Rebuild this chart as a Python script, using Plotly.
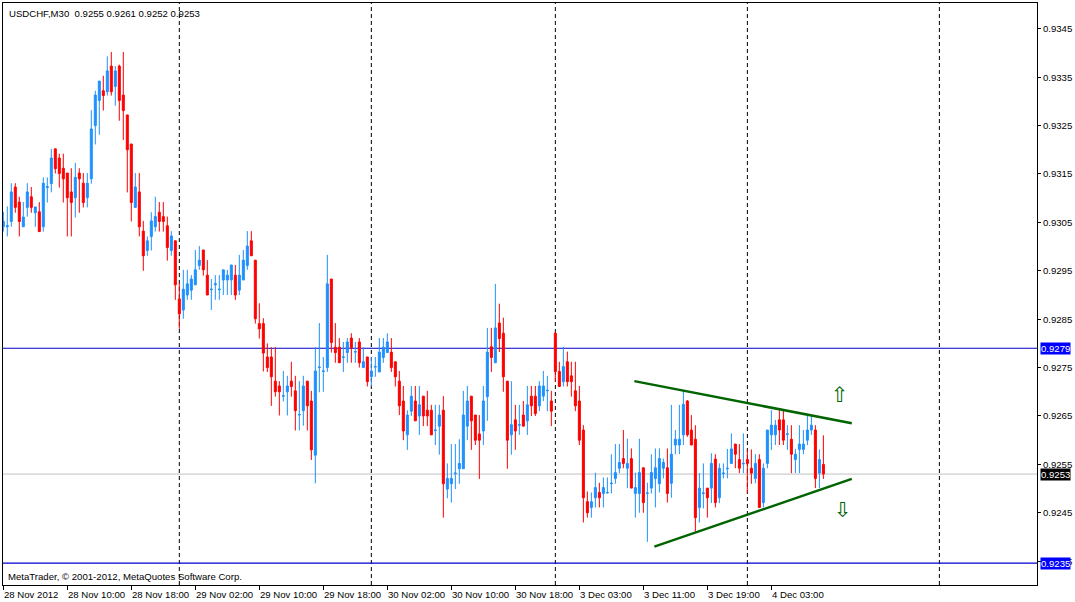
import plotly.graph_objects as go

# ---------------------------
# USDCHF M30 bars, 28 Nov 02:00 .. 4 Dec 09:30
# ---------------------------
opens = [
    0.93041, 0.93041, 0.93052, 0.93123, 0.93092, 0.93041, 0.93081, 0.93103, 0.93070, 0.93072,
    0.93041, 0.93122, 0.93130, 0.93202, 0.93183, 0.93162, 0.93152, 0.93113, 0.93101, 0.93152,
    0.93131, 0.93101, 0.93140, 0.93250, 0.93302, 0.93322, 0.93320, 0.93373, 0.93331, 0.93373,
    0.93313, 0.93272, 0.93212, 0.93081, 0.93113, 0.93032, 0.92992, 0.93021, 0.93041, 0.93071,
    0.93062, 0.93043, 0.92992, 0.93012, 0.92892, 0.92869, 0.92900, 0.92910, 0.92921, 0.92961,
    0.92993, 0.92941, 0.92911, 0.92921, 0.92911, 0.92931, 0.92931, 0.92931, 0.92941, 0.92910,
    0.92931, 0.92961, 0.93012, 0.92972, 0.92841, 0.92841, 0.92772, 0.92772, 0.92722, 0.92712,
    0.92691, 0.92700, 0.92722, 0.92702, 0.92652, 0.92661, 0.92722, 0.92681, 0.92569, 0.92750,
    0.92742, 0.92750, 0.92933, 0.92792, 0.92792, 0.92771, 0.92781, 0.92811, 0.92782, 0.92803,
    0.92750, 0.92772, 0.92731, 0.92751, 0.92741, 0.92771, 0.92781, 0.92782, 0.92762, 0.92722,
    0.92681, 0.92611, 0.92660, 0.92681, 0.92650, 0.92691, 0.92662, 0.92662, 0.92620, 0.92629,
    0.92662, 0.92499, 0.92510, 0.92531, 0.92541, 0.92541, 0.92629, 0.92691, 0.92652, 0.92613,
    0.92619, 0.92690, 0.92793, 0.92760, 0.92842, 0.92821, 0.92722, 0.92611, 0.92642, 0.92631,
    0.92652, 0.92640, 0.92691, 0.92691, 0.92671, 0.92691, 0.92702, 0.92681, 0.92821, 0.92742,
    0.92721, 0.92762, 0.92733, 0.92702, 0.92681, 0.92621, 0.92473, 0.92461, 0.92481, 0.92492,
    0.92490, 0.92491, 0.92510, 0.92521, 0.92542, 0.92562, 0.92542, 0.92562, 0.92490, 0.92490,
    0.92543, 0.92490, 0.92501, 0.92521, 0.92510, 0.92542, 0.92543, 0.92511, 0.92590, 0.92590,
    0.92611, 0.92681, 0.92621, 0.92602, 0.92461, 0.92490, 0.92501, 0.92501, 0.92561, 0.92481,
    0.92531, 0.92541, 0.92552, 0.92592, 0.92560, 0.92551, 0.92560, 0.92542, 0.92521, 0.92560,
    0.92471, 0.92552, 0.92611, 0.92611, 0.92642, 0.92642, 0.92612, 0.92602, 0.92560, 0.92581,
    0.92581, 0.92600, 0.92621, 0.92621, 0.92532, 0.92550,
]
highs = [
    0.93072, 0.93083, 0.93131, 0.93131, 0.93103, 0.93092, 0.93131, 0.93123, 0.93082, 0.93092,
    0.93143, 0.93143, 0.93202, 0.93202, 0.93192, 0.93192, 0.93152, 0.93162, 0.93173, 0.93162,
    0.93152, 0.93152, 0.93282, 0.93322, 0.93342, 0.93353, 0.93393, 0.93402, 0.93373, 0.93376,
    0.93402, 0.93272, 0.93212, 0.93152, 0.93152, 0.93053, 0.93021, 0.93071, 0.93103, 0.93092,
    0.93092, 0.93062, 0.93032, 0.93012, 0.92924, 0.92952, 0.92952, 0.92941, 0.92993, 0.93001,
    0.92993, 0.92972, 0.92933, 0.92941, 0.92941, 0.92952, 0.92952, 0.92962, 0.92962, 0.92983,
    0.92993, 0.93032, 0.93032, 0.92972, 0.92883, 0.92852, 0.92800, 0.92792, 0.92792, 0.92722,
    0.92743, 0.92733, 0.92762, 0.92733, 0.92722, 0.92733, 0.92722, 0.92702, 0.92792, 0.92842,
    0.92772, 0.92983, 0.92933, 0.92842, 0.92811, 0.92803, 0.92811, 0.92821, 0.92803, 0.92811,
    0.92792, 0.92772, 0.92772, 0.92772, 0.92811, 0.92811, 0.92821, 0.92811, 0.92762, 0.92743,
    0.92712, 0.92662, 0.92712, 0.92712, 0.92712, 0.92691, 0.92702, 0.92673, 0.92673, 0.92673,
    0.92691, 0.92552, 0.92592, 0.92592, 0.92602, 0.92702, 0.92712, 0.92691, 0.92652, 0.92652,
    0.92712, 0.92832, 0.92832, 0.92923, 0.92882, 0.92853, 0.92722, 0.92722, 0.92673, 0.92673,
    0.92681, 0.92712, 0.92712, 0.92712, 0.92722, 0.92743, 0.92733, 0.92702, 0.92823, 0.92762,
    0.92793, 0.92783, 0.92762, 0.92762, 0.92712, 0.92631, 0.92494, 0.92492, 0.92533, 0.92512,
    0.92523, 0.92523, 0.92571, 0.92592, 0.92592, 0.92621, 0.92603, 0.92583, 0.92533, 0.92603,
    0.92543, 0.92512, 0.92571, 0.92583, 0.92583, 0.92562, 0.92583, 0.92673, 0.92621, 0.92673,
    0.92702, 0.92683, 0.92652, 0.92631, 0.92532, 0.92552, 0.92501, 0.92573, 0.92571, 0.92552,
    0.92552, 0.92582, 0.92614, 0.92592, 0.92592, 0.92614, 0.92581, 0.92581, 0.92571, 0.92571,
    0.92552, 0.92621, 0.92662, 0.92642, 0.92662, 0.92662, 0.92631, 0.92631, 0.92582, 0.92631,
    0.92621, 0.92652, 0.92652, 0.92631, 0.92581, 0.92610,
]
lows = [
    0.93031, 0.93021, 0.93041, 0.93070, 0.93021, 0.93041, 0.93062, 0.93070, 0.93041, 0.93031,
    0.93031, 0.93091, 0.93112, 0.93151, 0.93122, 0.93091, 0.93021, 0.93021, 0.93060, 0.93070,
    0.93081, 0.93081, 0.93130, 0.93211, 0.93231, 0.93281, 0.93312, 0.93312, 0.93291, 0.93260,
    0.93220, 0.93112, 0.93052, 0.93081, 0.93021, 0.92950, 0.92981, 0.92992, 0.93031, 0.93031,
    0.93031, 0.92971, 0.92981, 0.92890, 0.92830, 0.92851, 0.92890, 0.92890, 0.92921, 0.92952,
    0.92940, 0.92900, 0.92869, 0.92890, 0.92890, 0.92900, 0.92900, 0.92900, 0.92890, 0.92900,
    0.92931, 0.92952, 0.92981, 0.92841, 0.92810, 0.92742, 0.92741, 0.92671, 0.92690, 0.92651,
    0.92680, 0.92651, 0.92690, 0.92620, 0.92620, 0.92630, 0.92620, 0.92559, 0.92511, 0.92699,
    0.92700, 0.92741, 0.92781, 0.92760, 0.92760, 0.92741, 0.92760, 0.92760, 0.92760, 0.92750,
    0.92750, 0.92711, 0.92711, 0.92731, 0.92741, 0.92760, 0.92781, 0.92741, 0.92711, 0.92652,
    0.92600, 0.92580, 0.92650, 0.92640, 0.92611, 0.92629, 0.92629, 0.92611, 0.92590, 0.92570,
    0.92440, 0.92480, 0.92471, 0.92499, 0.92510, 0.92541, 0.92600, 0.92580, 0.92590, 0.92520,
    0.92590, 0.92640, 0.92741, 0.92760, 0.92782, 0.92700, 0.92541, 0.92570, 0.92580, 0.92611,
    0.92629, 0.92611, 0.92650, 0.92650, 0.92660, 0.92681, 0.92660, 0.92629, 0.92721, 0.92711,
    0.92711, 0.92711, 0.92690, 0.92660, 0.92590, 0.92430, 0.92440, 0.92440, 0.92461, 0.92461,
    0.92461, 0.92490, 0.92490, 0.92510, 0.92532, 0.92542, 0.92501, 0.92501, 0.92440, 0.92450,
    0.92450, 0.92390, 0.92490, 0.92461, 0.92492, 0.92521, 0.92471, 0.92481, 0.92571, 0.92571,
    0.92590, 0.92607, 0.92590, 0.92411, 0.92430, 0.92459, 0.92440, 0.92470, 0.92461, 0.92470,
    0.92521, 0.92521, 0.92552, 0.92542, 0.92532, 0.92532, 0.92490, 0.92510, 0.92511, 0.92461,
    0.92461, 0.92542, 0.92580, 0.92590, 0.92590, 0.92590, 0.92580, 0.92532, 0.92532, 0.92532,
    0.92571, 0.92590, 0.92611, 0.92501, 0.92501, 0.92520,
]
closes = [
    0.93052, 0.93043, 0.93113, 0.93081, 0.93052, 0.93061, 0.93113, 0.93081, 0.93082, 0.93031,
    0.93131, 0.93124, 0.93183, 0.93161, 0.93151, 0.93140, 0.93101, 0.93091, 0.93143, 0.93140,
    0.93091, 0.93131, 0.93243, 0.93313, 0.93342, 0.93312, 0.93363, 0.93320, 0.93363, 0.93302,
    0.93281, 0.93200, 0.93091, 0.93123, 0.93041, 0.92981, 0.93012, 0.93053, 0.93062, 0.93052,
    0.93052, 0.92998, 0.93022, 0.92921, 0.92861, 0.92912, 0.92923, 0.92933, 0.92952, 0.92972,
    0.92952, 0.92900, 0.92912, 0.92923, 0.92912, 0.92952, 0.92941, 0.92962, 0.92900, 0.92941,
    0.92972, 0.93001, 0.92981, 0.92851, 0.92830, 0.92780, 0.92750, 0.92731, 0.92700, 0.92700,
    0.92692, 0.92712, 0.92711, 0.92661, 0.92653, 0.92712, 0.92671, 0.92580, 0.92743, 0.92751,
    0.92743, 0.92923, 0.92802, 0.92781, 0.92760, 0.92772, 0.92803, 0.92791, 0.92783, 0.92760,
    0.92762, 0.92721, 0.92743, 0.92752, 0.92782, 0.92792, 0.92803, 0.92750, 0.92731, 0.92671,
    0.92619, 0.92652, 0.92691, 0.92640, 0.92673, 0.92650, 0.92650, 0.92611, 0.92621, 0.92652,
    0.92510, 0.92521, 0.92521, 0.92532, 0.92552, 0.92652, 0.92681, 0.92640, 0.92600, 0.92600,
    0.92681, 0.92782, 0.92771, 0.92832, 0.92810, 0.92731, 0.92600, 0.92632, 0.92619, 0.92632,
    0.92629, 0.92673, 0.92671, 0.92655, 0.92712, 0.92712, 0.92703, 0.92660, 0.92742, 0.92711,
    0.92752, 0.92721, 0.92721, 0.92671, 0.92600, 0.92481, 0.92450, 0.92473, 0.92502, 0.92481,
    0.92502, 0.92492, 0.92511, 0.92533, 0.92554, 0.92552, 0.92552, 0.92501, 0.92502, 0.92533,
    0.92471, 0.92491, 0.92533, 0.92543, 0.92562, 0.92554, 0.92490, 0.92571, 0.92602, 0.92602,
    0.92674, 0.92611, 0.92590, 0.92440, 0.92501, 0.92491, 0.92481, 0.92552, 0.92471, 0.92542,
    0.92532, 0.92542, 0.92582, 0.92571, 0.92542, 0.92552, 0.92552, 0.92532, 0.92552, 0.92461,
    0.92542, 0.92621, 0.92631, 0.92631, 0.92621, 0.92600, 0.92613, 0.92571, 0.92571, 0.92592,
    0.92592, 0.92621, 0.92631, 0.92521, 0.92560, 0.92530,
]
bar_index = list(range(len(opens)))

# time axis labels (bar index where each label sits)
time_labels = ["28 Nov 2012", "28 Nov 10:00", "28 Nov 18:00", "29 Nov 02:00", "29 Nov 10:00",
               "29 Nov 18:00", "30 Nov 02:00", "30 Nov 10:00", "30 Nov 18:00", "3 Dec 03:00",
               "3 Dec 11:00", "3 Dec 19:00", "4 Dec 03:00"]
time_label_bars = [0, 16, 32, 48, 64, 80, 96, 112, 128, 144, 160, 176, 192]
day_separators = [44, 92, 138, 186, 234]

price_ticks = [0.9235, 0.9245, 0.9255, 0.9265, 0.9275, 0.9285, 0.9295, 0.9305, 0.9315, 0.9325, 0.9335, 0.9345]

# objects drawn on the chart
hlines = [0.9279, 0.92346]
hline_labels = ["0.9279", "0.9235"]
bid_price = 0.9253
upper_trend_x = [157.75, 212.1]
upper_trend_y = [0.92722, 0.92635]
lower_trend_x = [162.75, 212.1]
lower_trend_y = [0.92380, 0.92520]
arrow_up = (209.05, 0.92694)
arrow_down = (209.9, 0.92456)

header = "USDCHF,M30  0.9255 0.9261 0.9252 0.9253"
copyright_text = "MetaTrader, © 2001-2012, MetaQuotes Software Corp."

FONT = "Liberation Sans, Arial, sans-serif"
FS = 9.6

fig = go.Figure()

fig.add_trace(go.Candlestick(
    x=bar_index, open=opens, high=highs, low=lows, close=closes,
    increasing=dict(line=dict(color="#1e90ff", width=1), fillcolor="#1e90ff"),
    decreasing=dict(line=dict(color="#ff0000", width=1), fillcolor="#ff0000"),
    hoverinfo="skip", showlegend=False,
))

# triangle trend lines
for tx, ty in [(upper_trend_x, upper_trend_y), (lower_trend_x, lower_trend_y)]:
    fig.add_trace(go.Scatter(x=tx, y=ty, mode="lines",
                             line=dict(color="#006400", width=2.5),
                             hoverinfo="skip", showlegend=False))

shapes = []
# day separators
for d in day_separators:
    shapes.append(dict(type="line", xref="x", yref="paper", x0=d, x1=d, y0=0, y1=1,
                       line=dict(color="black", width=1, dash="4px,3px"), layer="below"))
# horizontal lines
for h in hlines:
    shapes.append(dict(type="line", xref="paper", yref="y", x0=0, x1=1, y0=h, y1=h,
                       line=dict(color="#0000cd", width=1.2), layer="below"))
shapes.append(dict(type="line", xref="paper", yref="y", x0=0, x1=1, y0=bid_price, y1=bid_price,
                   line=dict(color="#c0c0c0", width=1), layer="below"))

annotations = []
for lbl, b in zip(time_labels, time_label_bars):
    annotations.append(dict(x=b, y=0, xref="x", yref="paper", text=lbl, showarrow=False,
                            xanchor="left", yanchor="top", xshift=-1, yshift=-2,
                            font=dict(family=FONT, size=FS, color="black")))
for h, lbl in zip(hlines, hline_labels):
    annotations.append(dict(x=1, y=h, xref="paper", yref="y", text=lbl, showarrow=False,
                            xanchor="left", yanchor="middle", xshift=3, bgcolor="#0000ff",
                            borderpad=0, font=dict(family=FONT, size=FS, color="white")))
annotations.append(dict(x=1, y=bid_price, xref="paper", yref="y", text=f"{bid_price:.4f}",
                        showarrow=False, xanchor="left", yanchor="middle", xshift=3,
                        bgcolor="black", borderpad=0,
                        font=dict(family=FONT, size=FS, color="white")))
annotations.append(dict(x=0, y=1, xref="paper", yref="paper", text=header, showarrow=False,
                        xanchor="left", yanchor="top", xshift=4, yshift=-3,
                        font=dict(family=FONT, size=FS, color="black")))
annotations.append(dict(x=0, y=0, xref="paper", yref="paper", text=copyright_text, showarrow=False,
                        xanchor="left", yanchor="bottom", xshift=3, yshift=1,
                        font=dict(family=FONT, size=FS, color="black")))
annotations.append(dict(x=arrow_up[0], y=arrow_up[1], text="⇧", showarrow=False,
                        font=dict(family="DejaVu Sans", size=21, color="#006400")))
annotations.append(dict(x=arrow_down[0], y=arrow_down[1], text="⇩", showarrow=False,
                        font=dict(family="DejaVu Sans", size=21, color="#006400")))

fig.update_layout(
    width=1075, height=602,
    margin=dict(l=3, r=38, t=3, b=17),
    paper_bgcolor="white", plot_bgcolor="white",
    boxgap=0.5, boxgroupgap=0,
    hovermode=False,
    shapes=shapes, annotations=annotations,
    font=dict(family=FONT, size=FS, color="black"),
    xaxis=dict(range=[-0.075, 258.4], rangeslider=dict(visible=False),
               showgrid=False, zeroline=False, showline=True, mirror=True,
               linecolor="black", linewidth=1,
               tickvals=time_label_bars, ticks="outside", ticklen=4, tickcolor="black",
               showticklabels=False),
    yaxis=dict(range=[0.923008, 0.935033], side="right",
               showgrid=False, zeroline=False, showline=True, mirror=True,
               linecolor="black", linewidth=1,
               tickvals=price_ticks, ticktext=[f"{p:.4f}" for p in price_ticks],
               ticks="outside", ticklen=3, tickcolor="black",
               tickfont=dict(family=FONT, size=FS, color="black")),
)

# page body has a default 8px margin; remove it so the chart sits at the window corner
fig.write_html("out.html", config={"displayModeBar": False},
               post_script="document.body.style.margin='0';")
